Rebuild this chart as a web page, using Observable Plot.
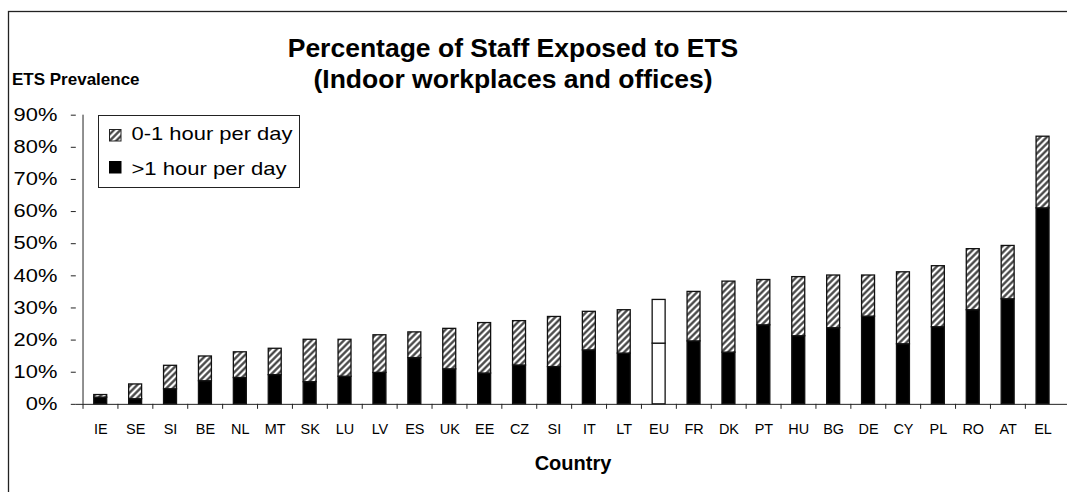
<!DOCTYPE html>
<html><head><meta charset="utf-8">
<script src="https://cdn.jsdelivr.net/npm/d3@7"></script>
<script src="https://cdn.jsdelivr.net/npm/@observablehq/plot@0.6"></script>
<style>
html,body{margin:0;padding:0;background:#fff;overflow:hidden;width:1067px;height:492px}
#wrap{position:relative;width:1067px;height:492px;overflow:hidden;background:#fff}
#wrap svg{position:absolute;left:0;top:0}
</style></head>
<body><div id="wrap"></div>
<script>
// ---- data ----
const countries = ["IE","SE","SI","BE","NL","MT","SK","LU","LV","ES","UK","EE","CZ","SI","IT","LT","EU","FR","DK","PT","HU","BG","DE","CY","PL","RO","AT","EL"];
const over1h  = [2.1,1.6,4.7,7.2,8.2,9.1,6.9,8.6,9.8,14.4,10.9,9.6,12.1,11.6,16.8,15.8,18.9,19.6,16.1,24.6,21.2,23.7,27.3,18.7,24.0,29.3,32.7,61.0];
const upTo1h  = [0.8,4.6,7.3,7.7,8.0,8.2,13.2,11.5,11.7,8.0,12.6,15.7,13.8,15.6,12.0,13.5,13.6,15.4,22.1,14.1,18.4,16.4,12.8,22.4,19.0,19.0,16.6,22.3];
const yTicks  = [0,10,20,30,40,50,60,70,80,90];
const titleLines = ["Percentage of Staff Exposed to ETS","(Indoor workplaces and offices)"];
const yTitle = "ETS Prevalence";
const xTitle = "Country";
const legendLabels = ["0-1 hour per day", ">1 hour per day"];

const FONT = "'Liberation Sans', Arial, Helvetica, sans-serif";
const W = 1070, H = 492, ML = 76, MT = 115, MB = 87;
const step = (W - ML) / countries.length;
const pxPerUnit = (H - MT - MB) / 90;

const rows = countries.map((c, i) => ({key: i, label: c, over: over1h[i], up: upTo1h[i], eu: c === "EU"}));
const keys = rows.map(d => d.key);
const normal = rows.filter(d => !d.eu), eu = rows.filter(d => d.eu);
const barStyle = {stroke: "#111", strokeWidth: 1.3};

const chart = Plot.plot({
  width: W, height: H, marginLeft: ML, marginRight: 0, marginTop: MT, marginBottom: MB,
  style: {fontFamily: FONT, background: "transparent", color: "#000", overflow: "visible"},
  x: {type: "band", domain: keys, paddingInner: 0.62, paddingOuter: 0.31, align: 0.5, label: null},
  y: {domain: [0, 90], label: null},
  marks: [
    Plot.barY(normal, {x: "key", y1: 0, y2: "over", fill: "black", ...barStyle}),
    Plot.barY(normal, {x: "key", y1: "over", y2: d => d.over + d.up, fill: "url(#hatch)", ...barStyle}),
    Plot.barY(eu, {x: "key", y1: 0, y2: "over", fill: "white", ...barStyle}),
    Plot.barY(eu, {x: "key", y1: "over", y2: d => d.over + d.up, fill: "white", ...barStyle}),
    Plot.ruleY([0], {stroke: "#222"}),
    Plot.ruleX([keys[0]], {y1: 0, y2: 90, dx: -step / 2, stroke: "#222"}),
    Plot.ruleX(keys, {y1: 0, y2: -5 / pxPerUnit, dx: -step / 2, stroke: "#222"}),
    Plot.axisY({ticks: yTicks, tickFormat: d => d + "%", tickSize: 5, tickPadding: 14, fontSize: 18, stroke: "#222"}),
    Plot.axisX({tickSize: 0, tickPadding: 19, fontSize: 14.5, tickFormat: k => countries[k]})
  ]
});
const wrap = document.getElementById("wrap");
wrap.appendChild(chart);

// stretch y tick labels horizontally like the reference
chart.querySelectorAll('g[aria-label="y-axis tick label"] text').forEach(t => {
  const L = t.getComputedTextLength();
  t.setAttribute("textLength", L * 1.22);
  t.setAttribute("lengthAdjust", "spacingAndGlyphs");
});

// overlay: frame, titles, legend, pattern
const ov = d3.select(wrap).append("svg").attr("width", 1067).attr("height", 492)
  .style("font-family", FONT).style("pointer-events", "none");
const defs = ov.append("defs");
const pat = defs.append("pattern").attr("id", "hatch").attr("patternUnits", "userSpaceOnUse")
  .attr("width", 4.6).attr("height", 4.6).attr("patternTransform", "rotate(45)");
pat.append("rect").attr("width", 4.6).attr("height", 4.6).attr("fill", "white");
pat.append("line").attr("x1", 2.3).attr("y1", -1).attr("x2", 2.3).attr("y2", 6).attr("stroke", "#3a3a3a").attr("stroke-width", 2.2);

ov.append("rect").attr("x", 8.5).attr("y", 11.5).attr("width", 1300).attr("height", 700)
  .attr("fill", "none").attr("stroke", "#222").attr("stroke-width", 1.3);

ov.selectAll("text.title").data(titleLines).join("text").attr("class", "title")
  .attr("x", 513).attr("y", (d, i) => 57 + i * 31).attr("text-anchor", "middle")
  .attr("font-size", 26.5).attr("font-weight", "bold").text(d => d);
ov.append("text").attr("x", 12).attr("y", 85).attr("font-size", 17).attr("font-weight", "bold").text(yTitle);
ov.append("text").attr("x", 573).attr("y", 470).attr("text-anchor", "middle").attr("font-size", 20).attr("font-weight", "bold").text(xTitle);

const lg = ov.append("g");
lg.append("rect").attr("x", 98.5).attr("y", 115.5).attr("width", 201).attr("height", 72).attr("fill", "white").attr("stroke", "#222").attr("stroke-width", 1);
lg.append("rect").attr("x", 109.5).attr("y", 129.5).attr("width", 11.5).attr("height", 11.5).attr("fill", "url(#hatch)").attr("stroke", "#222").attr("stroke-width", 1);
lg.append("rect").attr("x", 109).attr("y", 161).attr("width", 12.5).attr("height", 12.5).attr("fill", "black");
const lens = [161, 155];
legendLabels.forEach((s, i) => {
  lg.append("text").attr("x", 131.5).attr("y", 140 + i * 35).attr("font-size", 18.6)
    .attr("textLength", lens[i]).attr("lengthAdjust", "spacingAndGlyphs").text(s);
});
</script>
</body></html>
